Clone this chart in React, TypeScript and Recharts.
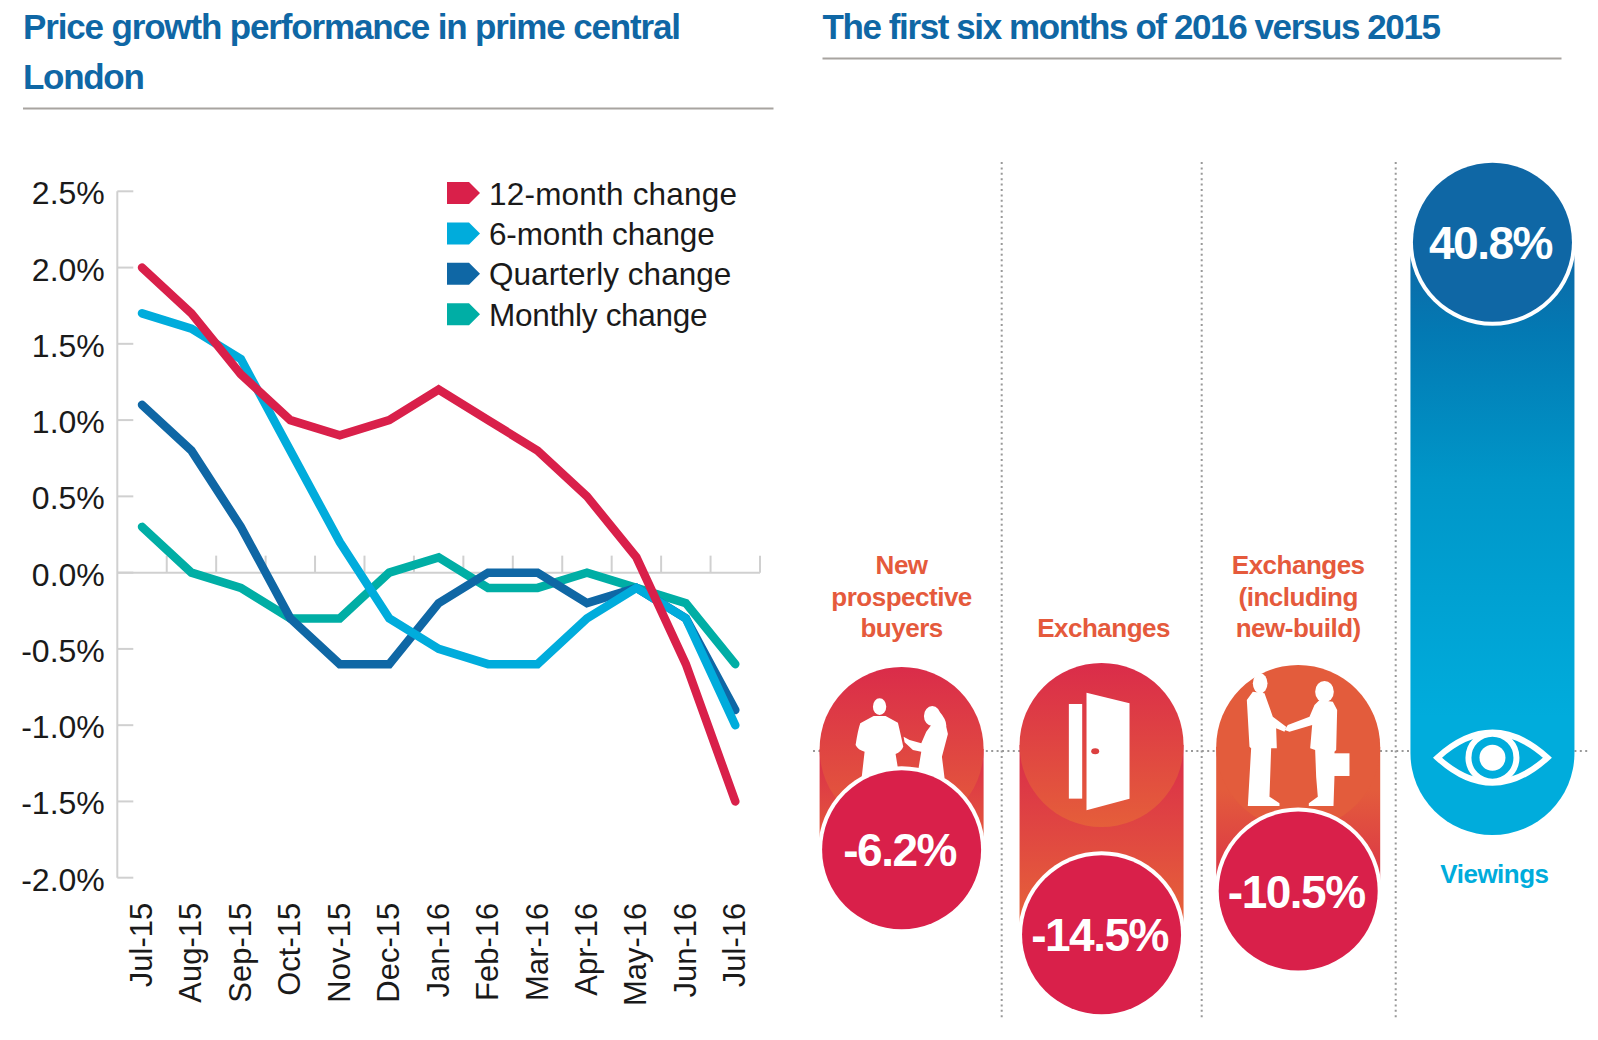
import { LineChart, Line, BarChart, Bar, XAxis, YAxis, ReferenceLine, Legend } from 'recharts';

const months = ['Jul-15', 'Aug-15', 'Sep-15', 'Oct-15', 'Nov-15', 'Dec-15', 'Jan-16', 'Feb-16', 'Mar-16', 'Apr-16', 'May-16', 'Jun-16', 'Jul-16'];
const twelveMonth = [2.0, 1.7, 1.3, 1.0, 0.9, 1.0, 1.2, 1.0, 0.8, 0.5, 0.1, -0.6, -1.5];
const sixMonth = [1.7, 1.6, 1.4, 0.8, 0.2, -0.3, -0.5, -0.6, -0.6, -0.3, -0.1, -0.3, -1.0];
const quarterly = [1.1, 0.8, 0.3, -0.3, -0.6, -0.6, -0.2, 0, 0, -0.2, -0.1, -0.3, -0.9];
const monthly = [0.3, 0, -0.1, -0.3, -0.3, 0, 0.1, -0.1, -0.1, 0, -0.1, -0.2, -0.6];
const yTicks = [-2, -1.5, -1, -0.5, 0, 0.5, 1, 1.5, 2, 2.5];
const legendOrder = ['12-month change', '6-month change', 'Quarterly change', 'Monthly change'];

const metrics = ['New prospective buyers', 'Exchanges', 'Exchanges (including new-build)', 'Viewings'];
const changes = [-6.2, -14.5, -10.5, 40.8];
// how far each pill is actually drawn in the picture (not quite to scale there)
const reach = [-7.9, -14.7, -11.2, 40.7];
const labelLines = [['New', 'prospective', 'buyers'], ['Exchanges'], ['Exchanges', '(including', 'new-build)'], ['Viewings']];

const lineData = months.map((month, i) => ({
  month,
  twelve: twelveMonth[i],
  six: sixMonth[i],
  quarter: quarterly[i],
  one: monthly[i],
}));
const pillData = metrics.map((metric, i) => ({ metric, reach: reach[i], change: changes[i] }));

const RED = '#d9204a';
const CYAN = '#00acdc';
const BLUE = '#0f67a5';
const TEAL = '#00aea5';
const ORANGE = '#e55a3c';
const FONT = '"Liberation Sans", Arial, sans-serif';
const AXIS = '#d0d0d0';
const INK = '#1a1a1a';

// the columns in the picture are not quite evenly spaced
const pillNudge = [0, 3, 2.7, 0];
const capOffset = [-2, -6, -4, 2];
const labelBase = [[574, 606, 637], [637], [574, 606, 637], [883]];
const labelNudge = [0, 2, 0, 2];
const capFills = ['url(#warmDown)', 'url(#warmDown)', '#e35c3c', null];
const bodyFills = ['url(#warmDown)', 'url(#warmBody)', 'url(#warmUp)', 'url(#coolDown)'];
const legendSpacing = [0.2, -0.15, 0.05, -0.3];
const R = 82;

function YTick({ x, y, payload }: any) {
  return (
    <g>
      <line x1={x} x2={x + 16} y1={y} y2={y} stroke={AXIS} strokeWidth={2} />
      <text x={x - 12.5} y={y + 13} textAnchor="end" fontFamily={FONT} fontSize={32} fill={INK}>
        {payload.value.toFixed(1)}%
      </text>
    </g>
  );
}

function XTick({ x, y, payload }: any) {
  const bx = x + 10;
  const by = y + 25;
  return (
    <text x={bx} y={by} transform={`rotate(-90 ${bx} ${by})`} textAnchor="end" fontFamily={FONT} fontSize={31} fill={INK}>
      {payload.value}
    </text>
  );
}

function ZeroAxis({ x1, x2, y1 }: any) {
  const step = (x2 - x1) / months.length;
  return (
    <g stroke={AXIS} strokeWidth={2}>
      <line x1={x1} x2={x2} y1={y1} y2={y1} />
      {months.map((m, i) => (
        <line key={m} x1={x1 + (i + 1) * step} x2={x1 + (i + 1) * step} y1={y1} y2={y1 - 17} />
      ))}
    </g>
  );
}

function ChartLegend({ payload }: any) {
  const items = legendOrder.map((name) => (payload || []).find((p: any) => p.value === name)).filter(Boolean);
  return (
    <svg width={320} height={170} style={{ display: 'block' }}>
      {items.map((item: any, i: number) => {
        const top = 12 + i * 40.4;
        return (
          <g key={item.value}>
            <polygon points={`0,${top} 22,${top} 33,${top + 11} 22,${top + 22} 0,${top + 22}`} fill={item.color} />
            <text x={42} y={top + 22.5} fontFamily={FONT} fontSize={31.5} letterSpacing={legendSpacing[i]} fill={INK}>
              {item.value}
            </text>
          </g>
        );
      })}
    </svg>
  );
}

function PeopleIcon() {
  return (
    <g fill="#fff">
      <ellipse cx={270} cy={530} rx={20} ry={25} />
      <path d="M252 558 L288 558 L325 578 Q335 620 341 650 Q335 665 318 672 L325 715 L322 745 L216 745 L225 665 Q205 660 198 645 Q205 600 212 580 Z" />
      <ellipse cx={428} cy={558} rx={25} ry={30} />
      <path d="M450 545 Q472 570 470 590 L475 612 L457 680 L465 745 L382 745 L395 665 L370 660 L345 637 L342 620 L360 630 L395 640 L410 605 L425 585 Z" />
    </g>
  );
}

function DoorIcon() {
  return (
    <g fill="#fff">
      <rect x={838} y={522} width={40} height={284} />
      <polygon points="891,488 1020,520 1020,806 891,841" />
      <ellipse cx={917} cy={664} rx={12} ry={9} fill="#dc4040" />
    </g>
  );
}

function HandshakeIcon() {
  return (
    <g fill="#fff">
      <ellipse cx={272} cy={460} rx={22} ry={30} />
      <path d="M250 485 L285 490 L310 560 L350 590 L345 605 L320 595 L322 655 L305 655 L300 800 L330 820 L330 828 L235 828 L245 655 L240 650 L232 510 Z" />
      <ellipse cx={465} cy={485} rx={28} ry={32} />
      <path d="M450 510 L490 515 L503 540 L500 660 L495 665 L495 738 L492 828 L418 828 L418 820 L445 800 L440 740 L437 660 L422 655 L428 585 L360 605 L345 600 L355 585 L420 560 L435 525 Z" />
      <rect x={490} y={670} width={50} height={68} />
    </g>
  );
}

function EyeIcon({ cx, cy }: { cx: number; cy: number }) {
  return (
    <g>
      <path
        d={`M${cx - 55} ${cy} Q${cx} ${cy - 50} ${cx + 55} ${cy} Q${cx} ${cy + 50} ${cx - 55} ${cy} Z`}
        fill="none"
        stroke="#fff"
        strokeWidth={6}
      />
      <circle cx={cx} cy={cy} r={24} fill="none" stroke="#fff" strokeWidth={6} />
      <circle cx={cx} cy={cy} r={13} fill="#fff" />
    </g>
  );
}

function Pill(props: any) {
  const { x, y, width, height, index, payload } = props;
  const cx = x + width / 2 + pillNudge[index];
  const a = y;
  const b = y + height;
  const up = payload.change > 0;
  const tip = up ? Math.min(a, b) : Math.max(a, b);
  const zero = up ? Math.max(a, b) : Math.min(a, b);
  const capY = zero + capOffset[index];
  const dx = cx - 902;
  const lines = labelLines[index];
  return (
    <g>
      {up ? (
        <>
          <path
            d={`M${cx - R} ${tip} H${cx + R} V${capY} A${R} ${R} 0 0 1 ${cx - R} ${capY} Z`}
            fill={bodyFills[index]}
          />
          <EyeIcon cx={cx} cy={zero + 6.7} />
        </>
      ) : (
        <>
          <path d={`M${cx - R} ${capY} H${cx + R} V${tip} H${cx - R} Z`} fill={bodyFills[index]} />
          <circle cx={cx} cy={capY} r={R} fill={capFills[index]} />
          {index === 0 && (
            <g transform={`translate(${790 + dx} 530) scale(0.3333)`}>
              <PeopleIcon />
            </g>
          )}
          {index === 1 && (
            <g transform={`translate(${790 + cx - 1102} 530) scale(0.3333)`}>
              <DoorIcon />
            </g>
          )}
          {index === 2 && (
            <g transform={`translate(${1170 + cx - 1298.7} 530) scale(0.3333)`}>
              <HandshakeIcon />
            </g>
          )}
        </>
      )}
      <circle cx={cx} cy={tip} r={83.5} fill="#fff" />
      <circle cx={cx} cy={tip} r={79.5} fill={up ? BLUE : RED} />
      <text
        x={cx - 2}
        y={tip + 16.5}
        textAnchor="middle"
        fontFamily={FONT}
        fontWeight="bold"
        fontSize={46}
        letterSpacing={-1.5}
        fill="#fff"
      >
        {payload.change}%
      </text>
      {lines.map((line, i) => (
        <text
          key={line}
          x={cx + labelNudge[index]}
          y={labelBase[index][i]}
          textAnchor="middle"
          fontFamily={FONT}
          fontWeight="bold"
          fontSize={26}
          letterSpacing={-0.5}
          fill={up ? CYAN : ORANGE}
        >
          {line}
        </text>
      ))}
    </g>
  );
}

export default function App() {
  return (
    <div style={{ position: 'absolute', left: 0, top: 0, width: 1598, height: 1040, background: '#fff', overflow: 'hidden' }}>
      <svg width={1598} height={1040} style={{ position: 'absolute', left: 0, top: 0 }}>
        <g fontFamily={FONT} fontWeight="bold" fontSize={35} fill={BLUE}>
          <text x={23} y={38.5} letterSpacing={-1.15}>Price growth performance in prime central</text>
          <text x={23} y={88.5} letterSpacing={-1.3}>London</text>
          <text x={822.5} y={38.5} letterSpacing={-1.4}>The first six months of 2016 versus 2015</text>
        </g>
        <line x1={23} x2={773.5} y1={108.5} y2={108.5} stroke="#a8a4a0" strokeWidth={2} />
        <line x1={822.5} x2={1561.5} y1={58.5} y2={58.5} stroke="#a8a4a0" strokeWidth={2} />
        {[1001.7, 1201.7, 1395.7].map((x) => (
          <line key={x} x1={x} x2={x} y1={162} y2={1020} stroke="#999" strokeWidth={2} strokeDasharray="2 3.4" />
        ))}
        <line x1={813} x2={1590} y1={751} y2={751} stroke="#999" strokeWidth={2} strokeDasharray="2 3.4" />
      </svg>

      <div style={{ position: 'absolute', left: 0, top: 0 }}>
        <LineChart width={790} height={1040} data={lineData} margin={{ top: 191.3, right: 30, bottom: 0.3, left: 0.3 }}>
          <XAxis
            dataKey="month"
            padding={{ left: 24.7, right: 24.7 }}
            axisLine={false}
            tickLine={false}
            tickSize={0}
            tickMargin={0}
            height={162}
            interval={0}
            tick={<XTick />}
          />
          <YAxis
            domain={[-2, 2.5]}
            ticks={yTicks}
            interval={0}
            width={117}
            axisLine={{ stroke: AXIS, strokeWidth: 2 }}
            tickLine={false}
            tickSize={0}
            tickMargin={0}
            tick={<YTick />}
          />
          <ReferenceLine y={0} shape={<ZeroAxis />} />
          <Legend
            layout="vertical"
            align="center"
            verticalAlign="middle"
            wrapperStyle={{ left: 447, top: 170, width: 320, height: 170, right: 'auto', bottom: 'auto' }}
            content={<ChartLegend />}
          />
          <Line dataKey="one" name="Monthly change" stroke={TEAL} strokeWidth={8.5} strokeLinecap="round" strokeLinejoin="miter" dot={false} isAnimationActive={false} />
          <Line dataKey="quarter" name="Quarterly change" stroke={BLUE} strokeWidth={8.5} strokeLinecap="round" strokeLinejoin="miter" dot={false} isAnimationActive={false} />
          <Line dataKey="six" name="6-month change" stroke={CYAN} strokeWidth={8.5} strokeLinecap="round" strokeLinejoin="miter" dot={false} isAnimationActive={false} />
          <Line dataKey="twelve" name="12-month change" stroke={RED} strokeWidth={8.5} strokeLinecap="round" strokeLinejoin="miter" dot={false} isAnimationActive={false} />
        </LineChart>
      </div>

      <div style={{ position: 'absolute', left: 0, top: 0 }}>
        <BarChart width={1598} height={1040} data={pillData} margin={{ top: 151, right: 6.6, bottom: 14, left: 803.6 }}>
          <defs>
            <linearGradient id="warmDown" x1="0" y1="0" x2="0" y2="1">
              <stop offset="0" stopColor="#da2c4a" />
              <stop offset="1" stopColor="#e55e3a" />
            </linearGradient>
            <linearGradient id="warmBody" x1="0" y1="0" x2="0" y2="1">
              <stop offset="0" stopColor="#da2c4a" />
              <stop offset="0.85" stopColor="#e55e3a" />
            </linearGradient>
            <linearGradient id="warmUp" x1="0" y1="0" x2="0" y2="1">
              <stop offset="0.3" stopColor="#e35c3c" />
              <stop offset="1" stopColor="#da3048" />
            </linearGradient>
            <linearGradient id="coolDown" x1="0" y1="0" x2="0" y2="1">
              <stop offset="0" stopColor={BLUE} />
              <stop offset="0.15" stopColor="#0379b3" />
              <stop offset="0.4" stopColor="#0096c8" />
              <stop offset="0.8" stopColor={CYAN} />
            </linearGradient>
          </defs>
          <XAxis dataKey="metric" hide />
          <YAxis domain={[-22, 48]} hide />
          <Bar dataKey="reach" barSize={164} shape={<Pill />} isAnimationActive={false} />
        </BarChart>
      </div>
    </div>
  );
}
